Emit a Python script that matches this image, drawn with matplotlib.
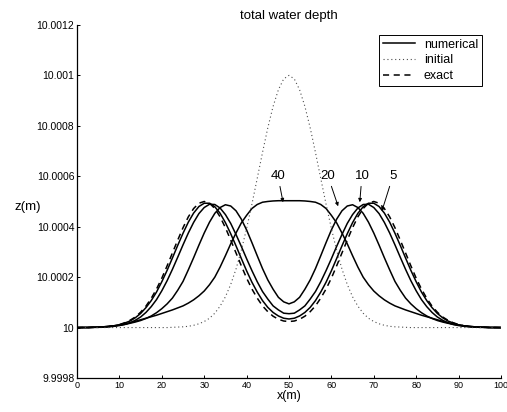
"""
Total water depth: numerical solutions for several resolutions vs the exact
split-hump solution and the initial Gaussian hump.
"""
import numpy as np
import matplotlib
matplotlib.use("Agg")
import matplotlib.pyplot as plt

plt.rcParams["font.family"] = ["Liberation Sans", "DejaVu Sans"]

x = np.arange(0, 100.01, 1.25)

initial = [0, 0, 0, 0, 0, 0, 0, 0, 0, 0,
           0, 0, 0, 0, 0, 0, 0, 0, 0.01, 0.02,
           0.03, 0.05, 0.09, 0.15, 0.24, 0.37, 0.57, 0.85, 1.22, 1.71,
           2.32, 3.06, 3.93, 4.89, 5.91, 6.94, 7.92, 8.77, 9.43, 9.86,
           10.0,
           9.86, 9.43, 8.77, 7.92, 6.94, 5.91, 4.89, 3.93, 3.06, 2.32,
           1.71, 1.22, 0.85, 0.57, 0.37, 0.24, 0.15, 0.09, 0.05, 0.03,
           0.02, 0.01, 0, 0, 0, 0, 0, 0, 0, 0,
           0, 0, 0, 0, 0, 0, 0, 0, 0, 0]
exact = [0, 0, 0, 0.01, 0.01, 0.03, 0.04, 0.07, 0.12, 0.19,
         0.29, 0.42, 0.61, 0.85, 1.16, 1.53, 1.96, 2.45, 2.96, 3.47,
         3.96, 4.39, 4.72, 4.93, 5.00, 4.93, 4.72, 4.39, 3.96, 3.47,
         2.96, 2.45, 1.96, 1.53, 1.17, 0.86, 0.63, 0.45, 0.33, 0.26,
         0.24,
         0.26, 0.33, 0.45, 0.63, 0.86, 1.17, 1.53, 1.96, 2.45, 2.96,
         3.47, 3.96, 4.39, 4.72, 4.93, 5.00, 4.93, 4.72, 4.39, 3.96,
         3.47, 2.96, 2.45, 1.96, 1.53, 1.16, 0.85, 0.61, 0.42, 0.29,
         0.19, 0.12, 0.07, 0.04, 0.03, 0.01, 0.01, 0, 0, 0]
num_5 = [0, 0, 0, 0.01, 0.01, 0.02, 0.04, 0.07, 0.11, 0.18,
         0.26, 0.39, 0.56, 0.79, 1.07, 1.41, 1.82, 2.27, 2.76, 3.26,
         3.74, 4.18, 4.54, 4.80, 4.93, 4.93, 4.79, 4.53, 4.16, 3.72,
         3.24, 2.74, 2.25, 1.80, 1.41, 1.07, 0.80, 0.60, 0.46, 0.37,
         0.34,
         0.37, 0.46, 0.60, 0.80, 1.07, 1.41, 1.80, 2.25, 2.74, 3.24,
         3.72, 4.16, 4.53, 4.79, 4.93, 4.93, 4.80, 4.54, 4.18, 3.74,
         3.26, 2.76, 2.27, 1.82, 1.41, 1.07, 0.79, 0.56, 0.39, 0.26,
         0.18, 0.11, 0.07, 0.04, 0.02, 0.01, 0.01, 0, 0, 0]
num_10 = [0, 0, 0, 0.01, 0.01, 0.02, 0.03, 0.05, 0.08, 0.12,
          0.19, 0.29, 0.42, 0.60, 0.83, 1.11, 1.46, 1.86, 2.31, 2.79,
          3.28, 3.75, 4.17, 4.52, 4.76, 4.89, 4.88, 4.74, 4.48, 4.13,
          3.69, 3.22, 2.73, 2.26, 1.82, 1.43, 1.13, 0.86, 0.70, 0.57,
          0.55,
          0.57, 0.70, 0.86, 1.13, 1.43, 1.82, 2.26, 2.73, 3.22, 3.69,
          4.13, 4.48, 4.74, 4.88, 4.89, 4.76, 4.52, 4.17, 3.75, 3.28,
          2.79, 2.31, 1.86, 1.46, 1.11, 0.83, 0.60, 0.42, 0.29, 0.19,
          0.12, 0.08, 0.05, 0.03, 0.02, 0.01, 0.01, 0, 0, 0]
num_20 = [0, 0.01, 0.01, 0.01, 0.02, 0.03, 0.05, 0.07, 0.10, 0.13,
          0.17, 0.22, 0.28, 0.36, 0.46, 0.59, 0.75, 0.94, 1.17, 1.48,
          1.83, 2.29, 2.77, 3.27, 3.75, 4.18, 4.53, 4.76, 4.87, 4.82,
          4.63, 4.30, 3.87, 3.37, 2.85, 2.34, 1.89, 1.52, 1.20, 1.02,
          0.94,
          1.02, 1.20, 1.52, 1.89, 2.34, 2.85, 3.37, 3.87, 4.30, 4.63,
          4.82, 4.87, 4.76, 4.53, 4.18, 3.75, 3.27, 2.77, 2.29, 1.83,
          1.48, 1.17, 0.94, 0.75, 0.59, 0.46, 0.36, 0.28, 0.22, 0.17,
          0.13, 0.10, 0.07, 0.05, 0.03, 0.02, 0.01, 0.01, 0.01, 0]
num_40 = [0, 0, 0, 0.01, 0.02, 0.03, 0.05, 0.07, 0.10, 0.14,
          0.19, 0.25, 0.31, 0.37, 0.43, 0.49, 0.56, 0.63, 0.70, 0.78,
          0.86, 0.97, 1.10, 1.26, 1.45, 1.70, 2.00, 2.40, 2.85, 3.32,
          3.75, 4.15, 4.45, 4.72, 4.88, 4.97, 5.00, 5.02, 5.03, 5.03,
          5.03,
          5.03, 5.03, 5.02, 5.00, 4.97, 4.88, 4.72, 4.45, 4.15, 3.75,
          3.32, 2.85, 2.40, 2.00, 1.70, 1.45, 1.26, 1.10, 0.97, 0.86,
          0.78, 0.70, 0.63, 0.56, 0.49, 0.43, 0.37, 0.31, 0.25, 0.19,
          0.14, 0.10, 0.07, 0.05, 0.03, 0.02, 0.01, 0, 0, 0]
numerical = [num_5, num_10, num_20, num_40]

# curve labels: text x, arrow tip (x, elevation in 1e-4 m)
labels = ["40", "20", "10", "5"]
label_x = [47.4, 59.2, 67.2, 74.5]
tip_x = [48.6, 61.6, 66.7, 71.9]
tip_eta = [4.97, 4.81, 4.97, 4.61]

yticks = [9.9998, 10.0, 10.0002, 10.0004, 10.0006, 10.0008, 10.001, 10.0012]
yticklabels = ["9.9998", "10", "10.0002", "10.0004", "10.0006", "10.0008", "10.001", "10.0012"]
xticks = [0, 10, 20, 30, 40, 50, 60, 70, 80, 90, 100]


def depth(eta):
    return 10.0 + np.asarray(eta) * 1e-4


fig = plt.figure(figsize=(5.07, 4.12), dpi=100)
ax = fig.add_axes([0.152, 0.0825, 0.836, 0.857])

for i, curve in enumerate(numerical):
    ax.plot(x, depth(curve), color="black", lw=1.1,
            label="numerical" if i == 0 else None)
ax.plot(x, depth(initial), color="0.3", lw=0.8, ls=(0, (1, 2.5)), label="initial")
ax.plot(x, depth(exact), color="black", lw=1.1, ls=(0, (4, 3)), label="exact")

for lab, lx, tx, te in zip(labels, label_x, tip_x, tip_eta):
    ax.annotate(lab, xy=(tx, depth(te)), xytext=(lx, depth(6.0)),
                ha="center", va="center", fontsize=9.5,
                arrowprops=dict(arrowstyle="-|>", lw=0.7, color="black",
                                mutation_scale=5, shrinkA=1, shrinkB=0))

ax.set_xlim(0, 100)
ax.set_ylim(9.9998, 10.0012)
ax.set_xticks(xticks)
ax.set_xticklabels([str(t) for t in xticks])
ax.set_yticks(yticks)
ax.set_yticklabels(yticklabels)
ax.tick_params(axis="both", direction="in", length=2.5, width=0.7)
ax.tick_params(axis="x", labelsize=6.5, pad=2)
ax.tick_params(axis="y", labelsize=7.5, pad=2)
for side in ("top", "right"):
    ax.spines[side].set_visible(False)
for side in ("left", "bottom"):
    ax.spines[side].set_linewidth(0.9)

ax.set_title("total water depth", fontsize=9.5, pad=4)
ax.set_xlabel("x(m)", fontsize=9, labelpad=0)
fig.text(28 / 507, 1 - 207 / 412, "z(m)", fontsize=9.5, ha="center", va="center")

leg = ax.legend(loc="upper right", bbox_to_anchor=(0.955, 0.972), fontsize=9,
                frameon=True, fancybox=False, framealpha=1, edgecolor="black",
                handlelength=2.6, borderpad=0.3, labelspacing=0.3,
                handletextpad=0.7, borderaxespad=0)
leg.get_frame().set_linewidth(0.7)

fig.savefig("out.png", dpi=100)
